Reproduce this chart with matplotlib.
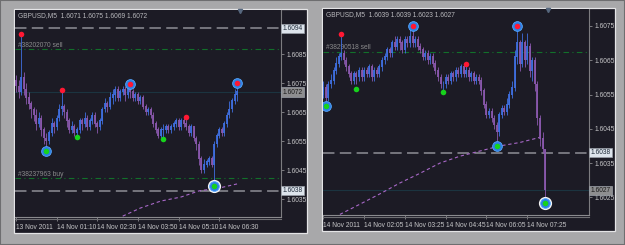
import matplotlib.pyplot as plt
from matplotlib.patches import Rectangle
from matplotlib.transforms import blended_transform_factory

plt.rcParams['font.family'] = ['Liberation Sans Narrow', 'Liberation Sans', 'DejaVu Sans']

W, H = 625, 245
BASE = 1.6  # all price lists are in pips above 1.6000

# ---------------- left chart ----------------
left_first_open = 76
left_close = [74, 72, 77, 73, 70, 68, 66, 64, 61, 63,
              59, 56, 55, 58, 61, 60, 63, 66, 67, 65,
              62, 59, 60, 58, 59, 62, 61, 63, 60, 62,
              64, 61, 60, 62, 66, 68, 67, 70, 71, 73,
              70, 72, 73, 71, 73, 72, 70, 71, 69, 70,
              67, 65, 66, 64, 61, 59, 57, 59, 59, 60,
              59, 60, 61, 62, 60, 62, 61, 60, 58, 60,
              56, 54, 49, 45, 47, 48, 49, 47, 54, 57,
              59, 58, 61, 64, 66, 69, 71, 72]
left_high = [78, 76, 91.5, 79, 75, 72, 69, 67, 66, 65,
             64, 60, 58, 59, 63, 62, 64, 68, 72.5, 68,
             66, 63, 62, 61, 60, 63, 63, 65, 64, 63,
             65, 65, 62, 63, 67, 70, 69, 72, 73, 74,
             74, 73, 74, 74, 74, 75, 73, 72, 72, 71,
             71, 68, 67, 67, 65, 62, 60, 60, 61, 61,
             61, 61, 62, 63, 63, 63, 63, 63, 61, 61,
             60, 57, 55, 50, 49, 49, 50, 50, 55, 58,
             60, 60, 62, 65, 69, 70, 73, 75]
left_low = [72, 70, 71, 71, 68, 66, 63, 62, 59, 60,
            57, 54, 53, 54, 57, 58, 59, 62, 64, 63,
            60, 58, 58, 57, 57, 58, 59, 60, 59, 59,
            61, 60, 58, 59, 61, 65, 65, 66, 68, 69,
            69, 69, 71, 69, 70, 70, 69, 69, 68, 68,
            66, 64, 64, 63, 60, 58, 56, 56, 56, 58,
            58, 58, 59, 60, 59, 59, 60, 59, 57, 57,
            55, 52, 47, 44, 44, 46, 47, 46, 40, 53,
            56, 57, 57, 60, 63, 65, 68, 69]
left_ma_bar = [42, 49, 57, 65, 72, 80, 87]
left_ma = [29.2, 32.0, 34.4, 35.8, 37.9, 38.9, 40.3]
left_red_bar = [2, 18, 45, 67, 87]
left_red = [91.9, 72.7, 74.7, 63.5, 75.0]
left_green_bar = [12, 24, 58, 78]
left_green = [51.7, 56.5, 55.7, 39.7]
left_ring_bar = [12, 45, 78, 87]
left_ring = [51.7, 74.7, 39.7, 75.0]
left_white_bar = [78]
left_white = [39.7]
left_times = ['13 Nov 2011', '14 Nov 01:10', '14 Nov 02:30',
              '14 Nov 03:50', '14 Nov 05:10', '14 Nov 06:30']
left_prices = [35, 45, 55, 65, 75, 85]

# ---------------- right chart ----------------
right_first_open = 55
right_close = [57, 54, 58, 59, 62, 64, 66, 67, 65, 63,
               61, 59, 61, 60, 62, 60, 62, 61, 63, 60,
               62, 61, 63, 65, 66, 68, 67, 70, 69, 71,
               70, 68, 71, 70, 72, 70, 71, 69, 68, 66,
               67, 65, 66, 64, 62, 60, 58, 58, 60, 59,
               61, 60, 62, 61, 63, 61, 62, 60, 61, 59,
               60, 59, 56, 52, 49, 50, 48, 46, 44, 49,
               51, 50, 52, 55, 57, 66, 70, 64, 70, 65,
               69, 62, 65, 58, 48, 42, 39, 27]
right_high = [59, 58, 59, 61, 63, 66, 67, 72, 68, 66,
              64, 62, 62, 62, 63, 63, 63, 63, 64, 64,
              63, 63, 64, 66, 67, 69, 69, 71, 72, 72,
              72, 71, 72, 72, 74, 75, 72, 72, 70, 69,
              68, 68, 67, 67, 65, 63, 61, 59, 61, 61,
              62, 62, 63, 63, 64, 64, 64, 63, 62, 62,
              61, 61, 60, 57, 53, 51, 51, 49, 47, 50,
              52, 52, 54, 56, 59, 68, 75, 71, 73, 71,
              73, 70, 66, 66, 59, 49, 44, 39]
right_low = [54, 52, 53, 57, 58, 61, 63, 65, 64, 62,
             60, 58, 58, 58, 59, 59, 59, 60, 60, 59,
             59, 60, 60, 62, 64, 65, 66, 66, 68, 68,
             68, 67, 67, 69, 69, 69, 69, 68, 67, 65,
             65, 64, 64, 63, 61, 59, 57, 56, 57, 58,
             58, 59, 59, 60, 60, 60, 60, 59, 59, 58,
             58, 58, 55, 51, 48, 48, 47, 45, 40, 43,
             48, 49, 49, 51, 54, 56, 64, 62, 63, 63,
             64, 60, 59, 56, 46, 40, 38, 23]
right_ma_bar = [6.5, 14.4, 22.2, 30.1, 37.9, 45.8, 53.6, 61.4, 69.3, 77.1, 85]
right_ma = [20.0, 23.0, 26.0, 29.2, 32.0, 35.0, 37.0, 38.5, 40.0, 41.0, 42.5]
right_red_bar = [7, 35, 56, 76]
right_red = [72.7, 75.0, 63.9, 75.0]
right_green_bar = [1, 13, 47, 68, 87]
right_green = [51.7, 56.7, 55.8, 40.1, 23.2]
right_ring_bar = [1, 35, 68, 76, 87]
right_ring = [51.7, 75.0, 40.1, 75.0, 23.2]
right_white_bar = [87]
right_white = [23.2]
right_times = ['14 Nov 2011', '14 Nov 02:05', '14 Nov 03:25',
               '14 Nov 04:45', '14 Nov 06:05', '14 Nov 07:25']
right_prices = [25, 35, 45, 55, 65, 75]

DARK = '#1c1b25'
UP = '#3f6fe0'
DOWN = '#8a58ae'
TXT = '#c6c6c8'
FS = 4.8


def p(v):
    return BASE + v / 1e4


def ps(vals):
    return [p(v) for v in vals]


fig = plt.figure(figsize=(W / 100, H / 100), dpi=100, facecolor='#a8a8aa')
fig.patches.append(Rectangle((0, 0), 1, 1, transform=fig.transFigure,
                             fill=False, ec='#6e6e70', lw=1.5, zorder=-10))


def frame(x0, y0, x1, y1):
    fig.patches.append(Rectangle((x0 / W, 1 - y1 / H), (x1 - x0) / W, (y1 - y0) / H,
                                 transform=fig.transFigure, fc=DARK, ec='#e4e4e6',
                                 lw=0.9, zorder=-10))


def panel(plot_px, xlim, ylim, first_open, close, high, low, ma_bar, ma,
          red_bar, red, green_bar, green, ring_bar, ring, white_bar, white,
          times, prices, header, dashed, green_lines, orders, cur, boxes):
    x0, y0, x1, y1 = plot_px
    ax = fig.add_axes([x0 / W, 1 - y1 / H, (x1 - x0) / W, (y1 - y0) / H])
    ax.set_facecolor(DARK)
    ax.set_xlim(*xlim)
    ax.set_ylim(p(ylim[0]), p(ylim[1]))
    tr = blended_transform_factory(ax.transAxes, ax.transData)

    # horizontal levels
    ax.axhline(p(cur), color='#1b3440', lw=0.8, zorder=1)
    for lv in dashed:
        ax.axhline(p(lv), color='#8e8e96', lw=1.1, ls=(0, (7.5, 3.5)), zorder=1)
    for lv in green_lines:
        ax.axhline(p(lv), color='#12702a', lw=0.8, ls=(0, (5, 3, 1, 3)), zorder=1)
    for txt, lv in orders:
        ax.text(0.011, p(lv), txt, transform=tr, color='#8a8a8c', fontsize=FS, va='center')

    # moving average
    ax.plot(ma_bar, ps(ma), color='#a868c8', lw=0.8, ls=(0, (3, 2.5)), zorder=2)

    # candles
    opens = [first_open] + close[:-1]
    for i, (o, c, h, l) in enumerate(zip(opens, close, high, low)):
        col = UP if c >= o else DOWN
        ax.vlines(i, p(l), p(h), color=col, lw=0.6, zorder=3)
        ax.vlines(i, p(min(o, c)), p(max(o, c)) + 0.00002, color=col, lw=1.3, zorder=3)

    # fractal dots and rings
    ax.plot(white_bar, ps(white), 'o', ms=9.5, color='#f4f4f4', mew=0, zorder=4)
    ax.plot(ring_bar, ps(ring), 'o', ms=7, mfc='#2c7fe4', mec='#58a8ff', mew=0.6, zorder=5)
    ax.plot(red_bar, ps(red), 'o', ms=4, color='#ff1833', mew=0, zorder=6)
    ax.plot(green_bar, ps(green), 'o', ms=4, color='#17d21c', mew=0, zorder=6)
    ax.plot([88.2], [0.995], 'v', ms=3, color='#56677e', transform=blended_transform_factory(
        ax.transData, ax.transAxes), clip_on=False)

    ax.text(0.011, 0.975, header, transform=ax.transAxes, color='#b8b8bc',
            fontsize=FS, va='center')

    # axes
    for s in ('left', 'top'):
        ax.spines[s].set_visible(False)
    ax.spines['right'].set_color('#7c7c80')
    ax.spines['bottom'].set_color('#8a8a8e')
    ax.spines['right'].set_linewidth(0.8)
    ax.spines['bottom'].set_linewidth(0.8)
    ax.plot([0, 1], [-0.011, -0.011], transform=ax.transAxes, color='#6e6e72',
            lw=0.8, clip_on=False)
    ax.yaxis.tick_right()
    ax.set_yticks(ps(prices))
    ax.set_yticklabels(['%.4f' % q for q in ps(prices)])
    ax.tick_params(axis='y', colors='#8a8a8e', labelcolor=TXT, labelsize=FS,
                   length=2, width=0.6, pad=2)
    ax.set_xticks([0, 16, 32, 48, 64, 80])
    ax.set_xticklabels(times, ha='left')
    ax.tick_params(axis='x', colors='#8a8a8e', labelcolor=TXT, labelsize=FS,
                   length=3, width=0.6, pad=2)

    for lv, fc, tc in boxes:
        ax.text(1.006, p(lv), '%.4f' % p(lv), transform=tr, color=tc, fontsize=FS,
                va='center', ha='left', zorder=7, clip_on=False,
                bbox=dict(boxstyle='square,pad=0.18', fc=fc, ec='#9aa0a8', lw=0.5))
    return ax


frame(14, 9, 306.5, 233)
frame(322, 8, 614.5, 231)

panel((15, 10, 281, 217), (-0.39, 104.3), (28.9, 100.28), left_first_open,
      left_close, left_high, left_low, left_ma_bar, left_ma,
      left_red_bar, left_red, left_green_bar, left_green,
      left_ring_bar, left_ring, left_white_bar, left_white,
      left_times, left_prices, 'GBPUSD,M5  1.6071 1.6075 1.6069 1.6072',
      [94, 38], [86.8, 42.3], [('#38202070 sell', 88.2), ('#38237963 buy', 43.7)],
      72, [(94, '#dde4ec', '#1e2a38'), (72, '#8e8e90', '#1a1a1a'),
           (38, '#dde4ec', '#1e2a38')])

panel((323, 9, 589, 215), (-0.12, 104.2), (19.83, 79.96), right_first_open,
      right_close, right_high, right_low, right_ma_bar, right_ma,
      right_red_bar, right_red, right_green_bar, right_green,
      right_ring_bar, right_ring, right_white_bar, right_white,
      right_times, right_prices, 'GBPUSD,M5  1.6039 1.6039 1.6023 1.6027',
      [38], [67.5], [('#38290518 sell', 68.7)],
      27, [(38, '#dde4ec', '#1e2a38'), (27, '#8e8e90', '#1a1a1a')])

fig.savefig('out.png', dpi=100, facecolor=fig.get_facecolor())
